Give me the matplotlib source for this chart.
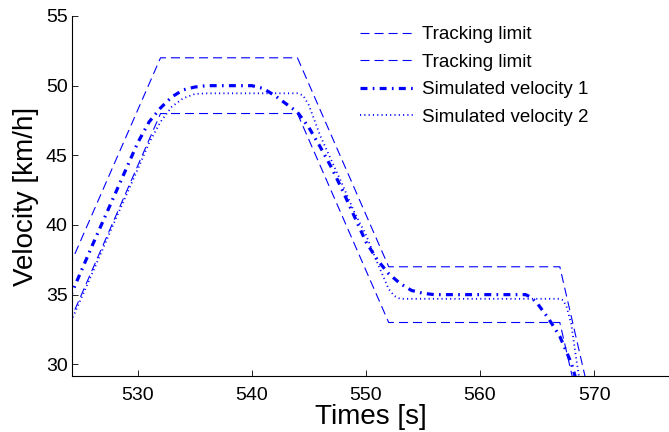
import matplotlib
matplotlib.use("Agg")
import matplotlib.pyplot as plt

plt.rcParams['font.family'] = ['Liberation Sans', 'DejaVu Sans']
plt.rcParams['lines.scale_dashes'] = False

# Tracking limits
t_limit = [524, 532, 544, 552, 567, 569.5]
upper_limit = [37, 52, 52, 37, 37, 28.1]
lower_limit = [33, 48, 48, 33, 33, 24.1]

# Simulated velocity 1
t_sim1 = [524, 526, 528, 530, 531, 532, 533, 534, 535, 536, 540, 541, 542, 543,
          544, 545, 546, 547, 548, 549, 550, 551, 552, 553, 554, 555, 556,
          564, 564.5, 565, 566, 567, 568, 568.5]
v_sim1 = [34.7, 38.5, 42.2, 45.9, 47.4, 48.4, 49.2, 49.7, 49.9, 50.0, 50.0, 49.8, 49.3, 48.7,
          48.1, 47.0, 45.6, 44.1, 42.4, 40.6, 38.8, 37.5, 36.5, 35.8, 35.3, 35.1, 35.0,
          35.0, 34.8, 34.4, 33.3, 32.0, 30.1, 28.7]

# Simulated velocity 2
t_sim2 = [524, 526, 528, 530, 531, 532, 533, 534, 535, 536, 544, 544.5, 545, 545.5,
          546, 547, 548, 549, 550, 551, 552, 552.5, 553, 567, 567.3, 567.6, 568, 568.4, 568.8]
v_sim2 = [32.8, 36.5, 40.3, 44.0, 45.9, 47.4, 48.5, 49.1, 49.4, 49.45, 49.45, 49.3, 48.6, 47.5,
          46.4, 44.6, 42.8, 40.9, 39.3, 37.3, 35.4, 34.9, 34.7, 34.7, 34.6, 34.1, 32.9, 30.6, 28.5]

labels = ['Tracking limit', 'Tracking limit', 'Simulated velocity 1', 'Simulated velocity 2']
x_ticks = [530, 540, 550, 560, 570]
y_ticks = [30, 35, 40, 45, 50, 55]

fig = plt.figure(figsize=(6.69, 4.32), dpi=100)
ax = fig.add_axes([72/669, 1-376/432, 1-72/669, (376-16)/432])

blue = '#0000ff'
ax.plot(t_limit, upper_limit, color=blue, lw=0.8, linestyle=(0, (6.5, 3.6)), label=labels[0])
ax.plot(t_limit, lower_limit, color=blue, lw=0.8, linestyle=(0, (6.5, 3.6)), label=labels[1])
ax.plot(t_sim1, v_sim1, color=blue, lw=2.3, linestyle=(0, (5, 3.8, 1.2, 3.8)), label=labels[2])
ax.plot(t_sim2, v_sim2, color=blue, lw=1.3, linestyle=(0, (0.8, 2.3)), label=labels[3])

ax.set_xlim(524.24, 576.57)
ax.set_ylim(29.16, 55)
ax.set_xticks(x_ticks)
ax.set_yticks(y_ticks)
ax.tick_params(direction='in', length=4, width=0.6, labelsize=14)
ax.tick_params(axis='x', pad=8)
ax.tick_params(axis='y', pad=3)
for s in ['top', 'right']:
    ax.spines[s].set_visible(False)
for s in ['left', 'bottom']:
    ax.spines[s].set_linewidth(0.8)

ax.set_xlabel('Times [s]', fontsize=20, labelpad=0)
ax.set_ylabel('Velocity [km/h]', fontsize=20, labelpad=5)

leg = ax.legend(loc='upper left', bbox_to_anchor=(360/669, 1-26/432),
                bbox_transform=fig.transFigure, frameon=False, fontsize=13.5,
                handlelength=3.0, handletextpad=0.3, labelspacing=0.56,
                borderpad=0, borderaxespad=0)

fig.savefig('out.png', dpi=100)
